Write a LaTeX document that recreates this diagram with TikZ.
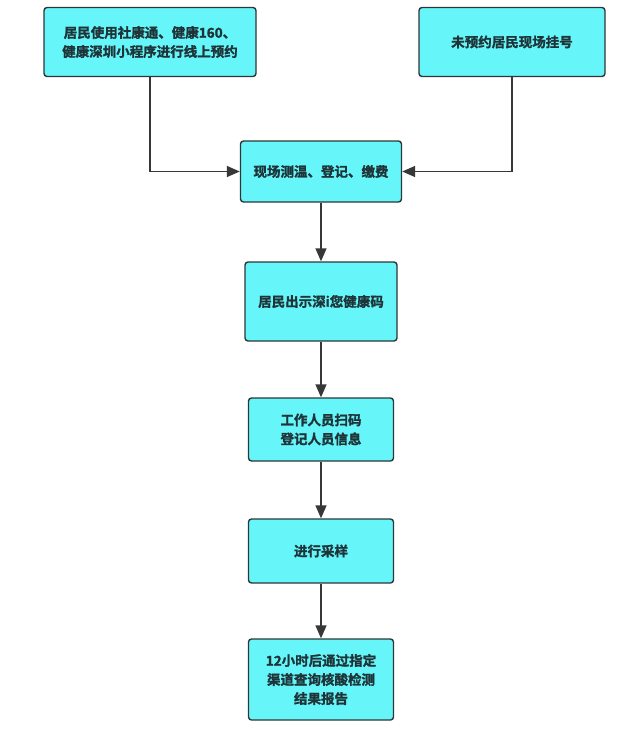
\documentclass[tikz,border=0pt]{standalone}
\usepackage{fontspec}
\newfontfamily\cjk{Noto Sans CJK SC}[BoldFont={* Bold},BoldFeatures={FakeBold=1.5}]
\usetikzlibrary{arrows.meta}
\definecolor{boxfill}{RGB}{102,246,250}
\definecolor{boxdraw}{RGB}{45,55,55}
\definecolor{txt}{RGB}{30,52,56}
\definecolor{lin}{RGB}{55,55,55}
\tikzset{
  fbox/.style={draw=boxdraw, fill=boxfill, rounded corners=3pt, line width=1.4pt,
    font=\cjk\bfseries\fontsize{13.5}{19}\selectfont, text=txt, align=center, inner sep=0pt},
  conn/.style={draw=lin, line width=1.5pt, -{Triangle[length=13pt,width=11pt]}}
}
\begin{document}
\begin{tikzpicture}[x=1pt,y=-1pt]
\useasboundingbox (0,0) rectangle (631,731);
\node[fbox, minimum width=212pt, minimum height=69pt] (a) at (150,42) {居民使用社康通、健康160、\\健康深圳小程序进行线上预约};
\node[fbox, minimum width=186pt, minimum height=69pt] (b) at (512,42) {未预约居民现场挂号};
\node[fbox, minimum width=161pt, minimum height=61pt] (c) at (321,171.5) {现场测温、登记、缴费};
\node[fbox, minimum width=152pt, minimum height=79pt] (d) at (321,301.5) {居民出示深i您健康码};
\node[fbox, minimum width=145pt, minimum height=63pt] (e) at (321,429.5) {工作人员扫码\\登记人员信息};
\node[fbox, minimum width=145pt, minimum height=64pt] (f) at (321,551) {进行采样};
\node[fbox, minimum width=145pt, minimum height=81pt] (g) at (321,679.5) {12小时后通过指定\\渠道查询核酸检测\\结果报告};
\draw[conn] (a.south) |- (c.west);
\draw[conn] (b.south) |- (c.east);
\draw[conn] (c) -- (d);
\draw[conn] (d) -- (e);
\draw[conn] (e) -- (f);
\draw[conn] (f) -- (g);
\end{tikzpicture}
\end{document}
